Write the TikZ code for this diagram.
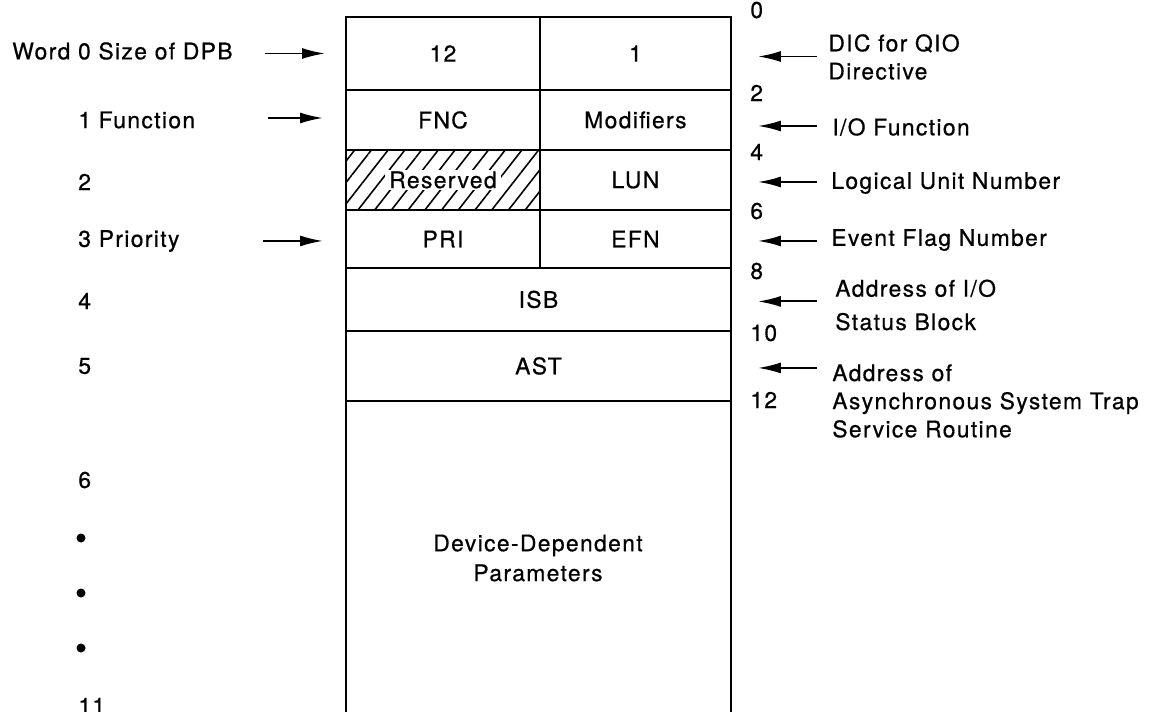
\documentclass[tikz,border=0pt]{standalone}
\usepackage{fontspec}
\setmainfont{TeX Gyre Heros}[LetterSpace=6,FakeBold=0.6]
\usetikzlibrary{positioning,arrows.meta,patterns.meta}

\begin{document}
\begin{tikzpicture}[
	x=0.02cm, y=-0.02cm,
	font=\fontsize{13pt}{16pt}\selectfont,
	cell/.style={
		draw,
		line width=1.5pt,
		inner sep=0pt,
		outer sep=0pt,
		minimum width=3.88cm
	},
	cellr/.style={cell, minimum width=3.82cm},
	wide/.style={cell, minimum width=7.7cm},
	arr/.style={
		-{Latex[length=4.6mm,width=2.2mm]},
		line width=1.1pt
	},
	lbl/.style={anchor=west, inner sep=0pt},
	note/.style={anchor=west, inner sep=0pt, align=left},
	dot/.style={circle, fill, inner sep=0pt, minimum size=0.18cm}
	]
	
	\useasboundingbox (0,0) rectangle (1156,711);
	
	% the parameter block
	\node[cell, minimum height=1.46cm, anchor=north west] (c12) at (346,17) {12};
	\node[cellr, minimum height=1.46cm, anchor=north west] (c1) at (c12.north east) {1};
	\node[cell, minimum height=1.2cm, below=0pt of c12] (fnc) {FNC};
	\node[cellr, minimum height=1.2cm, below=0pt of c1] (mod) {Modifiers};
	\node[cell, minimum height=1.2cm, below=0pt of fnc,
	pattern={Lines[angle=52,distance=7.5pt,line width=0.9pt]}] (res) {};
	\node[fill=white, inner xsep=2.5pt, inner ysep=1pt] (restext) at (res) {Reserved};
	\node[cellr, minimum height=1.2cm, below=0pt of mod] (lun) {LUN};
	\node[cell, minimum height=1.16cm, below=0pt of res] (pri) {PRI};
	\node[cellr, minimum height=1.16cm, below=0pt of lun] (efn) {EFN};
	\node[wide, minimum height=1.26cm, anchor=north west] (isb) at (pri.south west) {ISB};
	\node[wide, minimum height=1.4cm, below=0pt of isb] (ast) {AST};
	\draw[line width=1.5pt] (ast.south west) -- ++(0,312);
	\draw[line width=1.5pt] (ast.south east) -- ++(0,312);
	\node[align=center, font=\fontsize{13pt}{17pt}\selectfont] (ddp) at (538,558)
	{Device-Dependent\\Parameters};
	
	% byte offsets
	\node[lbl] (o0) at (750,10) {0};
	\node[lbl] (o2) at (750,93) {2};
	\node[lbl] (o4) at (750,152) {4};
	\node[lbl] (o6) at (750,211) {6};
	\node[lbl] (o8) at (750,271) {8};
	\node[lbl] (o10) at (750,333) {10};
	\node[lbl] (o12) at (750,400) {12};
	
	% word numbers
	\node[lbl] (lw0) at (12,51) {Word 0 Size of DPB};
	\node[lbl] (lw1) at (78,120) {1 Function};
	\node[lbl] (lw2) at (78,182) {2};
	\node[lbl] (lw3) at (78,241) {3 Priority};
	\node[lbl] (lw4) at (78,301) {4};
	\node[lbl] (lw5) at (78,366) {5};
	\node[lbl] (lw6) at (78,480) {6};
	\node[dot] (d1) at (81,538) {};
	\node[dot] (d2) at (81,593) {};
	\node[dot] (d3) at (81,648) {};
	\node[lbl] (lw11) at (78,706) {11};
	
	% descriptions
	\node[note] (rdic) at (828,57) {DIC for QIO\\Directive};
	\node[note] (riof) at (832,127) {I/O Function};
	\node[note] (rlun) at (831,183) {Logical Unit Number};
	\node[note] (refn) at (831,240) {Event Flag Number};
	\node[note] (risb) at (835,305) {Address of I/O\\[3pt]Status Block};
	\node[note] (rast) at (832,401) {Address of\\Asynchronous System Trap\\Service Routine};
	
	\draw[arr] (c12.west) ++(-81,0) -- ++(60,0);
	\draw[arr] (fnc.west) ++(-78,-2) -- ++(55,0);
	\draw[arr] (pri.west) ++(-83,2) -- ++(60,0);
	
	\draw[arr] (c1.east) ++(86,3) -- ++(-59,0);
	\draw[arr] (mod.east) ++(86,6) -- ++(-59,0);
	\draw[arr] (lun.east) ++(86,2) -- ++(-59,0);
	\draw[arr] (efn.east) ++(86,2) -- ++(-59,0);
	\draw[arr] (isb.east) ++(86,2) -- ++(-59,0);
	\draw[arr] (ast.east) ++(86,2) -- ++(-59,0);
	
\end{tikzpicture}
\end{document}
